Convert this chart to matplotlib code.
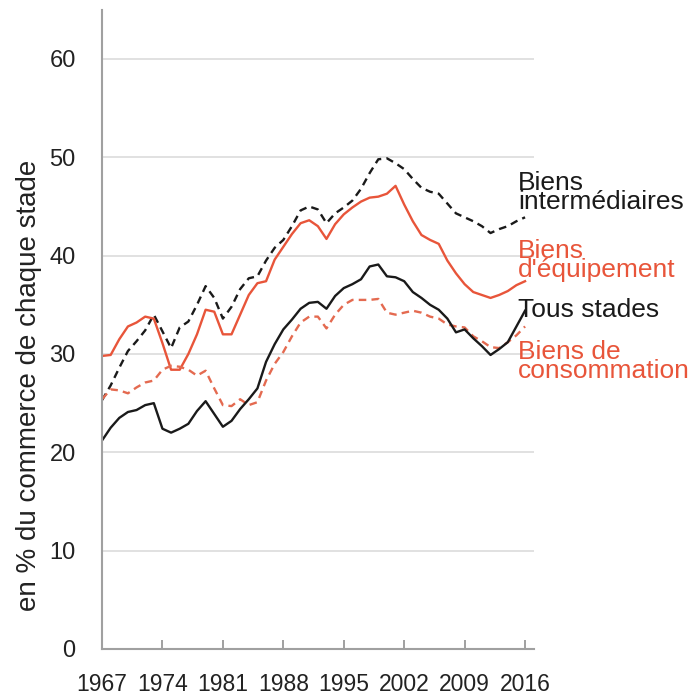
import matplotlib
matplotlib.use("Agg")
from matplotlib import pyplot as plt
import numpy as np

years = np.arange(1967, 2017)

tous_stades = [21.2, 22.5, 23.5, 24.1, 24.3, 24.8, 25.0, 22.4, 22.0, 22.4,
               22.9, 24.2, 25.2, 23.9, 22.6, 23.2, 24.4, 25.4, 26.5, 29.2,
               31.0, 32.5, 33.5, 34.6, 35.2, 35.3, 34.6, 35.9, 36.7, 37.1,
               37.6, 38.9, 39.1, 37.9, 37.8, 37.4, 36.3, 35.7, 35.0, 34.5,
               33.6, 32.2, 32.5, 31.6, 30.8, 29.9, 30.5, 31.2, 32.8, 34.4]

intermediaires = [25.3, 26.8, 28.6, 30.3, 31.3, 32.4, 34.0, 32.3, 30.6, 32.7,
                  33.3, 35.0, 36.9, 35.7, 33.6, 34.8, 36.6, 37.7, 37.9, 39.5,
                  40.8, 41.6, 43.0, 44.6, 45.0, 44.7, 43.3, 44.3, 44.9, 45.6,
                  46.8, 48.4, 49.8, 49.9, 49.4, 48.8, 47.8, 46.9, 46.5, 46.3,
                  45.3, 44.3, 43.9, 43.5, 43.0, 42.3, 42.7, 43.0, 43.5, 43.9]

equipement = [29.8, 29.9, 31.5, 32.8, 33.2, 33.8, 33.6, 31.1, 28.4, 28.4,
              30.0, 32.0, 34.5, 34.3, 32.0, 32.0, 34.0, 36.0, 37.2, 37.4,
              39.6, 40.9, 42.2, 43.3, 43.6, 43.0, 41.7, 43.2, 44.2, 44.9,
              45.5, 45.9, 46.0, 46.3, 47.1, 45.2, 43.5, 42.1, 41.6, 41.2,
              39.5, 38.2, 37.1, 36.3, 36.0, 35.7, 36.0, 36.4, 37.0, 37.4]

consommation = [25.4, 26.4, 26.3, 26.0, 26.6, 27.1, 27.3, 28.4, 28.8, 28.7,
                28.4, 27.8, 28.3, 26.5, 24.8, 24.7, 25.4, 24.8, 25.1, 27.3,
                29.0, 30.2, 31.8, 33.2, 33.8, 33.8, 32.6, 34.0, 35.0, 35.5,
                35.5, 35.5, 35.6, 34.2, 34.0, 34.2, 34.4, 34.2, 33.8, 33.6,
                33.0, 32.8, 32.7, 31.8, 31.3, 30.7, 30.6, 31.2, 31.9, 32.8]

xticks = [1967, 1974, 1981, 1988, 1995, 2002, 2009, 2016]
yticks = [0, 10, 20, 30, 40, 50, 60]

RED = '#e8553a'
RED_LIGHT = '#e46a50'
BLACK = '#1a1a1a'
FONT = ['Liberation Sans', 'DejaVu Sans']

fig = plt.figure(figsize=(6.94, 6.97), dpi=100)
ax = fig.add_axes([0.147, 0.0689, 0.622, 0.917])

ax.plot(years, intermediaires, color=BLACK, linewidth=1.7, dashes=(3.2, 2.2))
ax.plot(years, equipement, color=RED, linewidth=1.7)
ax.plot(years, consommation, color=RED_LIGHT, linewidth=1.7, dashes=(3.2, 2.2))
ax.plot(years, tous_stades, color=BLACK, linewidth=1.7)

ax.set_xlim(1967, 2017)
ax.set_ylim(0, 65)
ax.set_xticks(xticks)
ax.set_yticks(yticks)
ax.set_xticklabels([str(t) for t in xticks], family=FONT, fontsize=16.5)
ax.set_yticklabels([str(t) for t in yticks], family=FONT, fontsize=17)

ax.grid(axis='y', color='#dcdcdc', linewidth=1.2)
ax.set_axisbelow(True)
for side in ('top', 'right'):
    ax.spines[side].set_visible(False)
for side in ('left', 'bottom'):
    ax.spines[side].set_color('#a0a0a0')
    ax.spines[side].set_linewidth(1.5)
ax.tick_params(axis='x', direction='in', length=6.5, width=1.2, color='#909090',
               pad=17, labelcolor='#222222')
ax.tick_params(axis='y', length=0, pad=19, labelcolor='#222222')

ax.set_ylabel('en % du commerce de chaque stade', family=FONT, fontsize=20,
              color='#222222')
ax.yaxis.set_label_coords(-0.139, 0.413)

labels = [('Biens\nintermédiaires', BLACK, 48.6),
          ('Biens\nd\'équipement', RED, 41.7),
          ('Tous stades', BLACK, 35.7),
          ('Biens de\nconsommation', RED, 31.4)]
for text, colour, yv in labels:
    ax.text(2015.2, yv, text, color=colour, family=FONT, fontsize=19,
            linespacing=0.75, va='top', ha='left', clip_on=False)

fig.savefig('out.png', dpi=100)
